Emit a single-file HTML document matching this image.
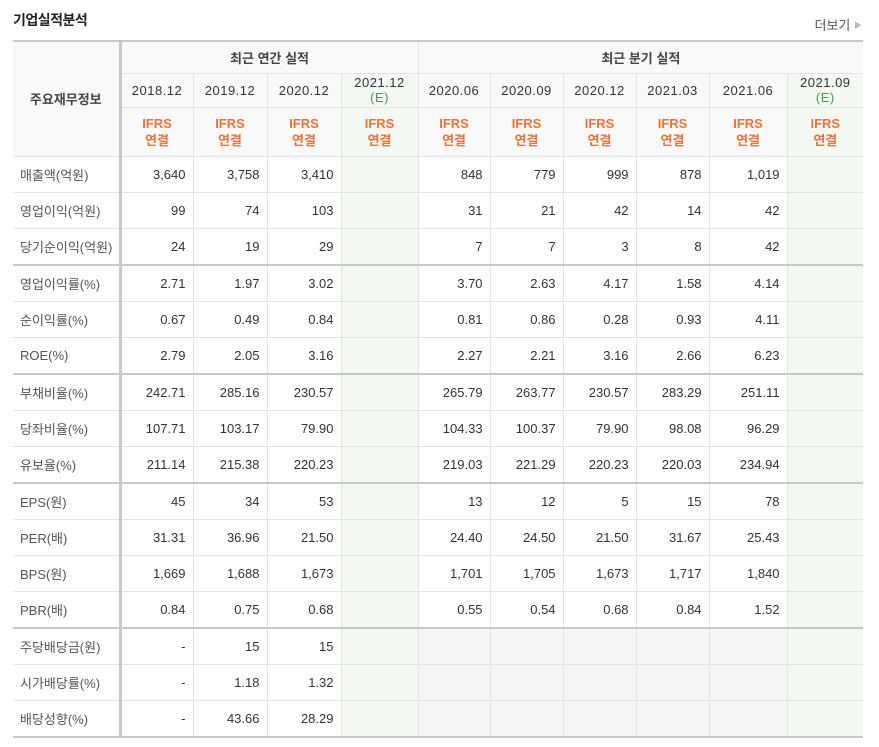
<!DOCTYPE html>
<html><head><meta charset="utf-8">
<style>
body{margin:0;width:879px;height:747px;background:#fff;font-family:"Liberation Sans","Noto Sans CJK KR",sans-serif;color:#333;position:relative;overflow:hidden}
.title{position:absolute;left:13px;top:10px;font-size:14px;font-weight:bold;color:#222;letter-spacing:-0.5px}
.more{position:absolute;right:17px;top:15px;font-size:13px;color:#555}
.more span{color:#bbb;font-size:8px;vertical-align:2px}
table{position:absolute;left:13px;top:40px;border-collapse:collapse;table-layout:fixed;width:850px;font-size:13px}
td,th{border:1px solid #e3e3e3;padding:0 7px;overflow:hidden;white-space:nowrap}
th{font-weight:normal;background:#f9f9f9;text-align:center}
thead tr:first-child th{border-top:2px solid #c8c8c8;font-weight:bold;color:#444}
.lab{border-left:none;text-align:left;color:#555}
td{text-align:right;height:35px}
.sep td{border-top:2px solid #c8c8c8}
.thick{border-right:3px solid #c8c8c8}
.est{background:#f3f8f3}
.gray{background:#f5f5f5}
.ifrs{color:#e8743b;font-weight:bold;line-height:17px}
.e{color:#4a9a4a}
tbody tr:last-child td{border-bottom:2px solid #c8c8c8}
th.last,td.last{border-right:none}
</style></head><body>
<div class="title">기업실적분석</div>
<div class="more">더보기 <span>▶</span></div>
<table>
<colgroup><col style="width:107px"><col style="width:73px"><col style="width:74px"><col style="width:74px"><col style="width:77px"><col style="width:72px"><col style="width:73px"><col style="width:73px"><col style="width:73px"><col style="width:78px"><col style="width:76px"></colgroup>
<thead>
<tr style="height:32px"><th rowspan="3" class="thick lab" style="text-align:center;font-weight:bold;border-top:2px solid #c8c8c8">주요재무정보</th>
<th colspan="4">최근 연간 실적</th>
<th colspan="6" class="last">최근 분기 실적</th></tr>
<tr style="height:34px" id="periods"></tr>
<tr style="height:49px" id="ifrs"></tr>
</thead>
<tbody id="body"></tbody>
</table>
<script>
const periods=["2018.12","2019.12","2020.12","2021.12","2020.06","2020.09","2020.12","2021.03","2021.06","2021.09"];
const estCols=[3,9];
const labels=["매출액(억원)","영업이익(억원)","당기순이익(억원)","영업이익률(%)","순이익률(%)","ROE(%)","부채비율(%)","당좌비율(%)","유보율(%)","EPS(원)","PER(배)","BPS(원)","PBR(배)","주당배당금(원)","시가배당률(%)","배당성향(%)"];
const sepRows=[3,6,9,13];
const values=[
["3,640","3,758","3,410","","848","779","999","878","1,019",""],
["99","74","103","","31","21","42","14","42",""],
["24","19","29","","7","7","3","8","42",""],
["2.71","1.97","3.02","","3.70","2.63","4.17","1.58","4.14",""],
["0.67","0.49","0.84","","0.81","0.86","0.28","0.93","4.11",""],
["2.79","2.05","3.16","","2.27","2.21","3.16","2.66","6.23",""],
["242.71","285.16","230.57","","265.79","263.77","230.57","283.29","251.11",""],
["107.71","103.17","79.90","","104.33","100.37","79.90","98.08","96.29",""],
["211.14","215.38","220.23","","219.03","221.29","220.23","220.03","234.94",""],
["45","34","53","","13","12","5","15","78",""],
["31.31","36.96","21.50","","24.40","24.50","21.50","31.67","25.43",""],
["1,669","1,688","1,673","","1,701","1,705","1,673","1,717","1,840",""],
["0.84","0.75","0.68","","0.55","0.54","0.68","0.84","1.52",""],
["-","15","15","","","","","","",""],
["-","1.18","1.32","","","","","","",""],
["-","43.66","28.29","","","","","","",""]];
const pr=document.getElementById('periods'),ir=document.getElementById('ifrs'),tb=document.getElementById('body');
periods.forEach((p,i)=>{
 const th=document.createElement('th');
 
 
 if(estCols.includes(i)){th.className='est';th.innerHTML='<div style="line-height:15px">'+p+'<br><span class="e">(E)</span></div>';}
 else th.textContent=p;
 if(i==9)th.className+=' last';
 th.style.letterSpacing='0.5px';
 pr.appendChild(th);
 const t2=document.createElement('th');
 
 
 t2.className=(estCols.includes(i)?'est':'')+(i==9?' last':'');
 t2.innerHTML='<div class="ifrs">IFRS<br>연결</div>';
 ir.appendChild(t2);
});
labels.forEach((l,r)=>{
 const tr=document.createElement('tr');
 if(sepRows.includes(r))tr.className='sep';
 const td=document.createElement('td');
 td.className='lab thick';
 td.textContent=l;
 
 
 tr.appendChild(td);
 values[r].forEach((v,i)=>{
  const c=document.createElement('td');
  c.textContent=v;
  
  
  let cls='';
  if(estCols.includes(i))cls='est';
  else if(r>=13&&i>=4)cls='gray';
  if(i==9)cls+=' last';
  c.className=cls;
  tr.appendChild(c);
 });
 tb.appendChild(tr);
});
</script>
</body></html>
